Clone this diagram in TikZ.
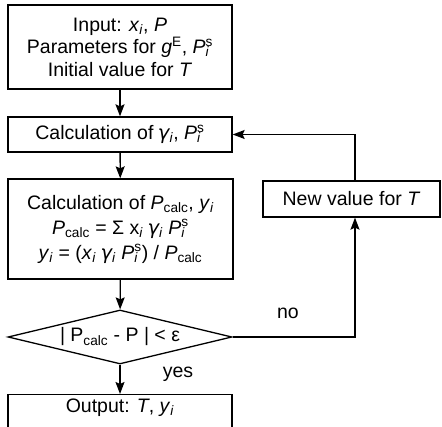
\documentclass[tikz,border=0pt]{standalone}
\usepackage{fontspec}
\setmainfont{Liberation Sans}
\newfontfamily\gfont{DejaVu Sans}
\usetikzlibrary{arrows.meta,shapes.geometric}
\newcommand\gam{{\gfont\fontshape{sl}\selectfont\kern-0.05em γ}}
\newcommand\Pis{\textit{P}\makebox[0.38em][l]{\rlap{\textsuperscript{s}}\textsubscript{\textit{i}}}}
\newcommand\Pcalc{\textit{P}\textsubscript{calc}}
\newcommand\xsub[2]{\textit{#1}\textsubscript{\textit{#2}}}
\begin{document}
\begin{tikzpicture}[x=1pt,y=1pt,line width=1.3pt,
  box/.style={draw, rectangle, align=center, inner sep=0pt, font=\fontsize{19.5}{22.5}\selectfont},
  dec/.style={draw, diamond, aspect=4.15, inner sep=0pt, font=\fontsize{19.5}{22}\selectfont},
  lbl/.style={font=\fontsize{19.5}{22}\selectfont, inner sep=0pt},
  arr/.style={-{Stealth[length=12pt,width=9pt,inset=2pt,fill=black]}}]
\useasboundingbox (0,0) rectangle (442,427);
\clip (0,0) rectangle (442,427);
\node[box, minimum width=224, minimum height=84] (in) at (120,380)
  {Input: \xsub{x}{i}, \textit{P}\\Parameters for \textit{g}\textsuperscript{E}, \Pis\\Initial value for \textit{T}};
\node[box, minimum width=224, minimum height=35] (c1) at (120,292.5)
  {Calculation of \gam\textsubscript{\textit{i}}, \Pis};
\node[box, minimum width=225, minimum height=100, font=\fontsize{19.5}{25}\selectfont] (c2) at (120.5,198)
  {Calculation of \Pcalc, \xsub{y}{i}\\
   \Pcalc{} = Σ x\textsubscript{\textit{i}} \gam\textsubscript{\textit{i}} \Pis\\
   \xsub{y}{i} = (\xsub{x}{i} \gam\textsubscript{\textit{i}} \Pis) / \Pcalc};
\node[dec, minimum width=224, minimum height=54] (dia) at (120,90)
  {| P\textsubscript{calc} - P | < ε};
\node[box, minimum width=177, minimum height=36] (new) at (351.5,228)
  {New value for \textit{T}};
\node[draw, rectangle, minimum width=224, minimum height=60, anchor=north] (outbox) at (120,33) {};
\node[lbl] (out) at (120,19) {Output: \textit{T}, \xsub{y}{i}};
\node[lbl] (no) at (288,114) {no};
\node[lbl] (yes) at (178,53) {yes};
\draw[arr] (in) -- (c1);
\draw[arr] (c1) -- (c2);
\draw[arr] (c2) -- (dia);
\draw[arr] (dia) -- (outbox);
\draw[arr] (dia.east) -| ([xshift=3.5]new.south);
\draw[arr] ([xshift=3.5]new.north) |- (c1.east);
\end{tikzpicture}
\end{document}
